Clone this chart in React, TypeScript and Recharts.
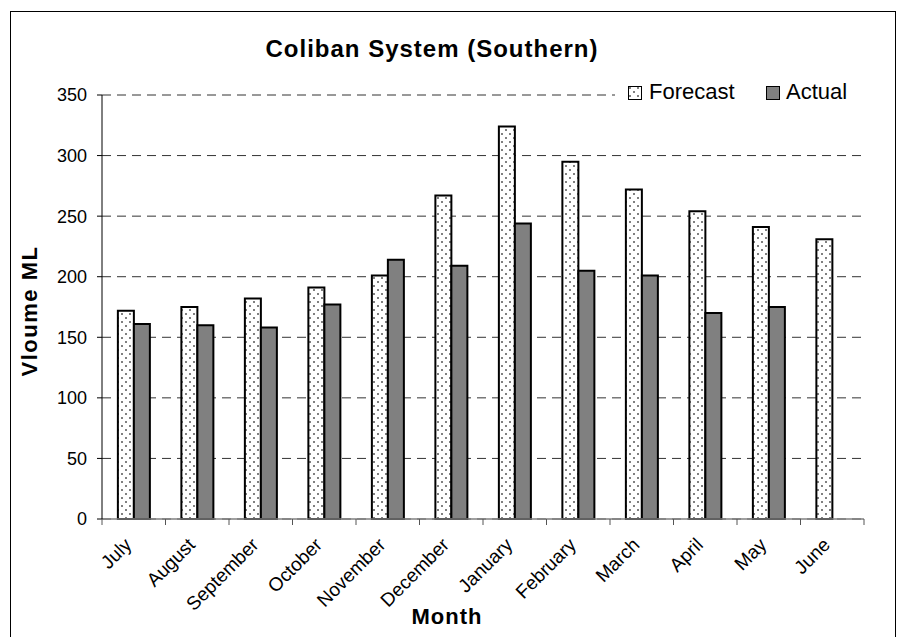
import { Bar, BarChart, CartesianGrid, Legend, XAxis, YAxis } from 'recharts';

const months = ['July', 'August', 'September', 'October', 'November', 'December', 'January', 'February', 'March', 'April', 'May', 'June'];
const forecast = [172, 175, 182, 191, 201, 267, 324, 295, 272, 254, 241, 231];
const actual: (number | null)[] = [161, 160, 158, 177, 214, 209, 244, 205, 201, 170, 175, null];
const yTicks = [0, 50, 100, 150, 200, 250, 300, 350];

const W = 901;
const H = 637;
const FONT = '"Liberation Sans", Arial, sans-serif';
// plot area runs x 102..864, y 95..519
const MARGIN = { top: 95, right: 37, left: 42, bottom: 38 };
const BAND = (W - MARGIN.left - 60 - MARGIN.right) / months.length;

const data = months.map((m, i) => ({ month: m, forecast: forecast[i], actual: actual[i] }));

function MonthTick(props: any) {
  const { x, y, payload, index } = props;
  const half = payload?.offset ?? BAND / 2;
  const last = index === months.length - 1;
  const tx = x - 1;
  const ty = y + 27;
  return (
    <g>
      <line x1={x - half} y1={y} x2={x - half} y2={y + 6} stroke="#555" />
      {last && <line x1={x + half} y1={y} x2={x + half} y2={y + 6} stroke="#555" />}
      <text x={tx} y={ty} textAnchor="end" transform={`rotate(-45, ${tx}, ${ty})`} fontSize={19} fill="#000" fontFamily={FONT}>
        {payload.value}
      </text>
    </g>
  );
}

function DotPattern({ id }: { id: string }) {
  return (
    <pattern id={id} width={8} height={8} patternUnits="userSpaceOnUse">
      <rect width={8} height={8} fill="#fff" />
      <circle cx={2} cy={2} r={1} fill="#555" />
      <circle cx={6} cy={6} r={1} fill="#555" />
    </pattern>
  );
}

function LegendBox() {
  return (
    <div style={{ position: 'relative', width: 247, height: 24, background: '#fff', fontFamily: FONT, fontSize: 22, lineHeight: '22px', color: '#000' }}>
      <svg width={14} height={14} style={{ position: 'absolute', left: 13, top: 6 }}>
        <defs>
          <DotPattern id="dotsLegend" />
        </defs>
        <rect x={0.5} y={0.5} width={13} height={13} fill="url(#dotsLegend)" stroke="#000" />
      </svg>
      <span style={{ position: 'absolute', left: 34, top: 1 }}>Forecast</span>
      <svg width={14} height={14} style={{ position: 'absolute', left: 151, top: 6 }}>
        <rect x={0.5} y={0.5} width={13} height={13} fill="#808080" stroke="#000" />
      </svg>
      <span style={{ position: 'absolute', left: 171, top: 1 }}>Actual</span>
    </div>
  );
}

export default function App() {
  return (
    <div style={{ position: 'absolute', left: 0, top: 0, width: W, height: H, background: '#fff', overflow: 'hidden', fontFamily: FONT }}>
      <div style={{ position: 'absolute', left: 10, top: 11, width: 886, height: 660, border: '1px solid #000', boxSizing: 'border-box' }} />
      <div style={{ position: 'absolute', left: 0, top: 0 }}>
        <BarChart width={W} height={H} data={data} margin={MARGIN} barCategoryGap="25%" barGap={0}>
          <defs>
            <DotPattern id="dots" />
          </defs>
          <CartesianGrid vertical={false} stroke="#333" strokeDasharray="9 6" />
          <XAxis
            dataKey="month"
            interval={0}
            height={80}
            tickSize={0}
            tickMargin={0}
            tickLine={false}
            axisLine={{ stroke: '#808080', strokeWidth: 1.5 }}
            tick={<MonthTick />}
          />
          <YAxis
            width={60}
            domain={[0, 350]}
            ticks={yTicks}
            tickSize={5}
            tickMargin={10}
            axisLine={{ stroke: '#000' }}
            tickLine={{ stroke: '#000' }}
            tick={{ fontSize: 18, fill: '#000', fontFamily: FONT }}
          />
          <Legend
            layout="vertical"
            align="center"
            verticalAlign="middle"
            wrapperStyle={{ left: 615, top: 80, width: 247 }}
            content={() => <LegendBox />}
          />
          <Bar dataKey="forecast" name="Forecast" fill="url(#dots)" stroke="#000" strokeWidth={2} isAnimationActive={false} />
          <Bar dataKey="actual" name="Actual" fill="#808080" stroke="#000" strokeWidth={2} isAnimationActive={false} />
        </BarChart>
      </div>
      <svg width={W} height={H} style={{ position: 'absolute', left: 0, top: 0, pointerEvents: 'none' }}>
        <text x={432} y={57} textAnchor="middle" fontSize={24} fontWeight="bold" letterSpacing={1} fontFamily={FONT} fill="#000">
          Coliban System (Southern)
        </text>
        <text x={447} y={624} textAnchor="middle" fontSize={22} fontWeight="bold" letterSpacing={1} fontFamily={FONT} fill="#000">
          Month
        </text>
        <text x={37} y={311} textAnchor="middle" fontSize={22} fontWeight="bold" letterSpacing={1.5} fontFamily={FONT} fill="#000" transform="rotate(-90, 37, 311)">
          Vloume ML
        </text>
      </svg>
    </div>
  );
}
